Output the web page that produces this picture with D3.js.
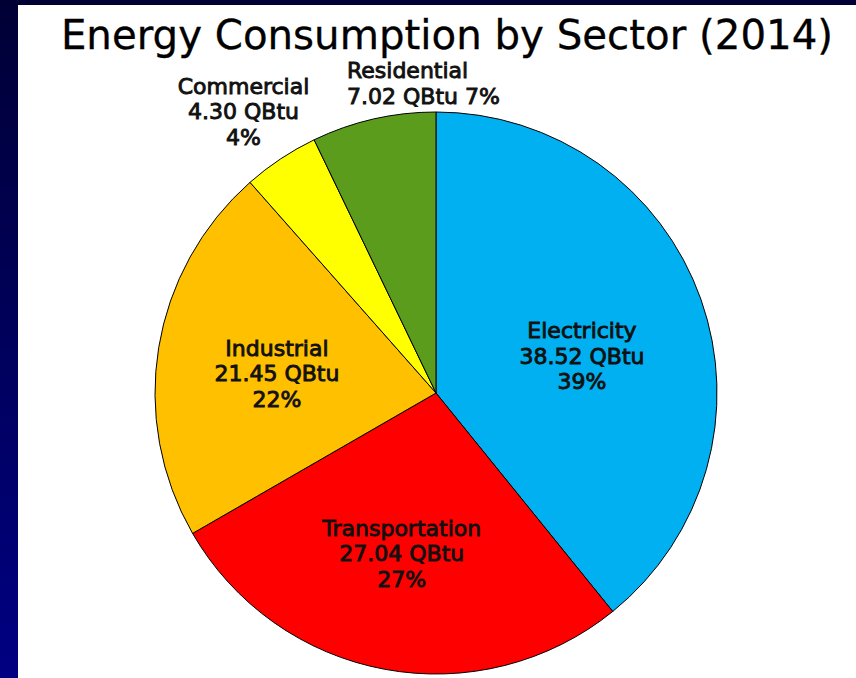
<!DOCTYPE html>
<html>
<head>
<meta charset="utf-8">
<script src="https://cdn.jsdelivr.net/npm/d3@7"></script>
<style>
  html, body { margin: 0; padding: 0; background: #fff; }
  svg { display: block; }
</style>
</head>
<body>
<svg id="chart" width="856" height="678"></svg>
<script>
// ---- data ----
const title = "Energy Consumption by Sector (2014)";
const sectors = ["Electricity", "Transportation", "Industrial", "Commercial", "Residential"];
const values = [38.52, 27.04, 21.45, 4.30, 7.02];
const percentLabels = ["39%", "27%", "22%", "4%", "7%"];
const colors = ["#00b0f0", "#ff0000", "#ffc000", "#ffff00", "#5b9c1d"];

// ---- layout ----
const W = 856, H = 678;
const svg = d3.select("#chart");

const defs = svg.append("defs");
const grad = defs.append("linearGradient").attr("id", "bg").attr("x1", 0).attr("y1", 0).attr("x2", 0).attr("y2", 1);
grad.append("stop").attr("offset", "0%").attr("stop-color", "#000035");
grad.append("stop").attr("offset", "100%").attr("stop-color", "#000082");
svg.append("rect").attr("x", 0).attr("y", 0).attr("width", W).attr("height", H).attr("fill", "url(#bg)");
svg.append("rect").attr("x", 18).attr("y", 5).attr("width", W - 18).attr("height", H - 5).attr("fill", "#ffffff");

svg.append("text")
  .attr("x", 447).attr("y", 49)
  .attr("text-anchor", "middle")
  .attr("font-family", "DejaVu Sans")
  .attr("font-size", 40.3)
  .attr("fill", "#000")
  .attr("stroke", "#000")
  .attr("stroke-width", 0.3)
  .text(title);

const cx = 436, cy = 393, R = 281;
const data = sectors.map((s, i) => ({ name: s, value: values[i], pct: percentLabels[i], color: colors[i] }));

const pie = d3.pie().sort(null).value(d => d.value).startAngle(0).endAngle(2 * Math.PI);
const arcs = pie(data);
const arc = d3.arc().innerRadius(0).outerRadius(R);
const labelArc = d3.arc().innerRadius(R * 0.57).outerRadius(R * 0.57);

const g = svg.append("g").attr("transform", `translate(${cx},${cy})`);
g.selectAll("path.slice").data(arcs).join("path")
  .attr("class", "slice")
  .attr("d", arc)
  .attr("fill", d => d.data.color)
  .attr("stroke", "#000")
  .attr("stroke-width", 1);

// label placement nudges (layout only)
const nudges = {
  Electricity: [-5, 24],
  Transportation: [-5, 11],
  Industrial: [-1, 14]
};
const lh = 25.5;
const fontAttrs = sel => sel
  .attr("font-family", "DejaVu Sans")
  .attr("font-size", 22)
  .attr("fill", "#111")
  .attr("stroke", "#111")
  .attr("stroke-width", 0.9);

arcs.forEach(d => {
  const name = d.data.name;
  const valTxt = d3.format(".2f")(d.data.value) + " QBtu";
  if (nudges[name]) {
    const [x0, y0] = labelArc.centroid(d);
    const x = x0 + nudges[name][0], y = y0 + nudges[name][1];
    const t = g.append("text").attr("text-anchor", "middle").call(fontAttrs);
    [name, valTxt, d.data.pct].forEach((line, k) => {
      t.append("tspan").attr("x", x).attr("y", y + (k - 1) * lh).text(line);
    });
  } else if (name === "Commercial") {
    const mid = (d.startAngle + d.endAngle) / 2;
    const [px, py] = d3.pointRadial(mid, R * 1.2);
    const x = px - 6, y = py + 7;
    const t = g.append("text").attr("text-anchor", "middle").call(fontAttrs);
    [name, valTxt, d.data.pct].forEach((line, k) => {
      t.append("tspan").attr("x", x).attr("y", y + (k - 1) * lh).text(line);
    });
  } else {
    // Residential: left-aligned above the slice
    const yTop = -R - 34;
    const t = g.append("text").attr("text-anchor", "start").call(fontAttrs);
    t.append("tspan").attr("x", -89).attr("y", yTop).text(name);
    t.append("tspan").attr("x", -89).attr("y", yTop + lh).text(valTxt + " " + d.data.pct);
  }
});
</script>
</body>
</html>
